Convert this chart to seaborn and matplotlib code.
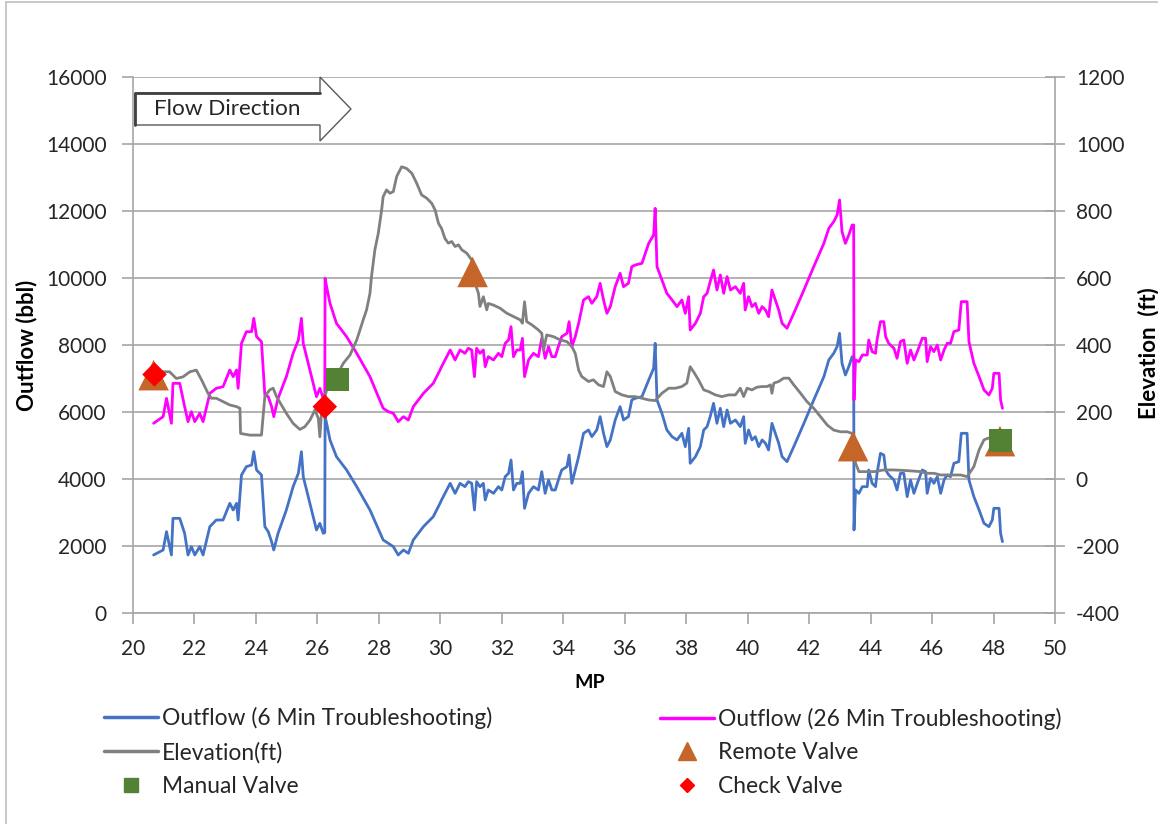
import matplotlib
matplotlib.use("Agg")
import matplotlib.pyplot as plt
import pandas as pd
import seaborn as sns
from matplotlib.patches import Polygon
from matplotlib.lines import Line2D

# ---------------------------------------------------------------- data
# Mile post sample points shared by both outflow series
mp_outflow = [
    20.67, 20.98, 21.09, 21.25, 21.30, 21.52, 21.68, 21.79, 21.90, 22.01,
    22.17, 22.28, 22.50, 22.71, 22.93, 23.15, 23.26, 23.37, 23.42, 23.53,
    23.69, 23.86, 23.93, 24.02, 24.18, 24.29, 24.40, 24.51, 24.58, 24.72,
    24.99, 25.21, 25.38, 25.48, 25.54, 25.70, 25.86, 25.97, 26.08, 26.19,
    26.24, 26.25, 26.30, 26.41, 26.62, 26.95, 27.28, 27.71, 28.14, 28.31,
    28.47, 28.63, 28.80, 28.96, 29.12, 29.45, 29.77, 29.99,
    30.04, 30.21, 30.32, 30.48, 30.64, 30.80, 30.91, 31.02, 31.11, 31.18,
    31.29, 31.40, 31.46, 31.56, 31.73, 31.89, 32.00, 32.11, 32.22, 32.30,
    32.38, 32.49, 32.60, 32.67, 32.74, 32.87, 33.03, 33.19, 33.30, 33.41,
    33.52, 33.63, 33.74, 33.84, 33.95, 34.12, 34.19, 34.28, 34.39, 34.50,
    34.66, 34.82, 34.93, 35.09, 35.20, 35.31, 35.42, 35.53, 35.69, 35.85,
    35.96, 36.12, 36.23, 36.34, 36.56, 36.78, 36.94, 36.99, 37.05, 37.21,
    37.37, 37.54, 37.70, 37.86, 37.97, 38.08, 38.13, 38.30, 38.46, 38.57,
    38.68, 38.78, 38.89, 39.00, 39.11, 39.22, 39.33, 39.44, 39.60,
    39.76, 39.87, 39.92, 40.03, 40.14, 40.25, 40.36, 40.47, 40.58, 40.68,
    40.79, 40.90, 41.01, 41.12, 41.28, 41.50, 41.83, 42.15, 42.48, 42.64,
    42.80, 42.91, 42.99, 43.07, 43.18, 43.29, 43.40, 43.45, 43.46, 43.51,
    43.62, 43.73, 43.89, 43.94, 44.05, 44.16, 44.21, 44.32, 44.43, 44.49,
    44.59, 44.76, 44.86, 44.97, 45.08, 45.19, 45.30, 45.41, 45.52, 45.68,
    45.79, 45.84, 45.95, 46.06, 46.17, 46.28, 46.39, 46.49, 46.60, 46.71,
    46.87, 46.95, 47.14, 47.20, 47.36, 47.53, 47.69, 47.85, 47.96, 48.01,
    48.18, 48.23, 48.29,
]

# Outflow (bbl), 6 minute troubleshooting
outflow_6min = [
    1732, 1881, 2428, 1732, 2826, 2826, 2379, 1732, 1981, 1732,
    1981, 1732, 2578, 2776, 2776, 3274, 3075, 3274, 2776, 4120,
    4369, 4418, 4816, 4269, 4120, 2578, 2428, 2130, 1881, 2379,
    3075, 3771, 4170, 4816, 4070, 3473, 2876, 2478, 2677, 2379,
    2400, 5861, 5662, 5164, 4667, 4269, 3771, 3075, 2180, 2080,
    1981, 1732, 1881, 1782, 2180, 2578, 2876, 3274,
    3374, 3672, 3871, 3572, 3871, 3771, 3921, 3871, 3075, 3921,
    3771, 3871, 3374, 3672, 3572, 3771, 3672, 4070, 4170, 4567,
    3672, 3871, 3871, 4219, 3125, 3572, 3771, 3672, 4219, 3572,
    3970, 3672, 3672, 3970, 4269, 4369, 4717, 3871, 4269, 4667,
    5364, 5463, 5264, 5463, 5861, 5364, 4966, 5165, 5762, 6160,
    5762, 5861, 6359, 6408, 6458, 6955, 7304, 8050, 6359, 5960,
    5463, 5264, 5165, 5364, 4966, 5513, 4468, 4667, 4966, 5463,
    5563, 5861, 6259, 5662, 6110, 5563, 6060, 5662, 5762,
    5563, 5861, 5065, 5463, 5165, 5264, 4966, 5165, 5065, 4866,
    5662, 5364, 5065, 4667, 4518, 4966, 5662, 6359, 7055, 7553,
    7752, 7951, 8349, 7453, 7105, 7354, 7652, 7652, 2478, 3672,
    3572, 3771, 3771, 4269, 3871, 3771, 4170, 4766, 4717, 4269,
    4120, 3971, 3672, 4170, 4170, 3473, 3971, 3572, 3871, 4269,
    4219, 3572, 4020, 3871, 4070, 3572, 3971, 4120, 4070, 4468,
    4518, 5364, 5364, 3971, 3473, 3075, 2677, 2577, 2776, 3125,
    3125, 2379, 2130,
]

# Outflow (bbl), 26 minute troubleshooting
outflow_26min = [
    5662, 5861, 6408, 5662, 6856, 6856, 6160, 5712, 6010, 5712,
    5960, 5712, 6557, 6707, 6756, 7254, 7055, 7254, 6707, 8050,
    8398, 8398, 8796, 8249, 8100, 6508, 6458, 6160, 5861, 6408,
    7055, 7752, 8150, 8796, 8050, 7453, 6856, 6458, 6707, 6408,
    6408, 9990, 9742, 9244, 8647, 8249, 7752, 7055, 6110, 6010,
    5960, 5712, 5861, 5761, 6160, 6557, 6856, 7254,
    7354, 7652, 7851, 7553, 7851, 7752, 7901, 7851, 7055, 7901,
    7752, 7851, 7354, 7652, 7553, 7752, 7652, 8050, 8150, 8548,
    7652, 7851, 7851, 8199, 7055, 7553, 7752, 7652, 8199, 7602,
    7951, 7652, 7652, 7951, 8249, 8349, 8697, 7951, 8249, 8647,
    9344, 9443, 9244, 9443, 9841, 9344, 8945, 9145, 9741, 10140,
    9741, 9841, 10339, 10388, 10438, 11035, 11284, 12080, 10339, 9941,
    9543, 9344, 9145, 9344, 8945, 9443, 8448, 8647, 8945, 9443,
    9543, 9891, 10239, 9642, 10090, 9543, 10040, 9642, 9741,
    9543, 9841, 9045, 9443, 9145, 9244, 8945, 9145, 9045, 8846,
    9642, 9344, 9045, 8647, 8498, 8945, 9642, 10339, 11035, 11483,
    11682, 11881, 12329, 11383, 11035, 11284, 11582, 11582, 6359, 7553,
    7503, 7702, 7702, 8150, 7801, 7752, 8150, 8697, 8697, 8249,
    8050, 7901, 7602, 8100, 8150, 7453, 7851, 7553, 7801, 8199,
    8199, 7503, 7951, 7801, 8000, 7553, 7851, 8050, 8050, 8398,
    8448, 9294, 9294, 8100, 7453, 7055, 6657, 6508, 6707, 7155,
    7155, 6359, 6110,
]

# Pipeline elevation profile (ft)
mp_elev = [
    20.70, 21.19, 21.41, 21.63, 21.85, 22.06, 22.23, 22.44, 22.55, 22.71,
    22.93, 23.15, 23.37, 23.48, 23.50, 23.80, 24.18, 24.29, 24.45, 24.56,
    24.67, 24.99, 25.21, 25.43, 25.59, 25.76, 25.92, 26.03, 26.08, 26.14,
    26.30, 26.62, 26.84, 27.06, 27.28, 27.49, 27.60, 27.71, 27.76, 27.87,
    27.98, 28.09, 28.14, 28.25, 28.36, 28.47, 28.58, 28.74, 28.90, 29.07,
    29.23, 29.39, 29.56, 29.72, 29.83, 29.94,
    30.04, 30.15, 30.26, 30.37, 30.48, 30.59, 30.70, 30.86, 31.02, 31.13,
    31.24, 31.29, 31.40, 31.51, 31.56, 31.73, 31.94, 32.16, 32.38, 32.60,
    32.67, 32.74, 32.81, 32.98, 33.19, 33.30, 33.36, 33.46, 33.68, 33.90,
    34.12, 34.28, 34.39, 34.50, 34.60, 34.82, 34.98, 35.15, 35.31, 35.42,
    35.53, 35.69, 35.91, 36.12, 36.34, 36.56, 36.78, 36.99, 37.21, 37.43,
    37.65, 37.86, 38.02, 38.13, 38.24, 38.40, 38.57, 38.73, 38.95, 39.16,
    39.38, 39.60, 39.76, 39.87,
    39.98, 40.14, 40.30, 40.47, 40.63, 40.74, 40.79, 40.85, 41.01, 41.17,
    41.34, 41.50, 41.72, 41.93, 42.15, 42.37, 42.59, 42.80, 43.02, 43.24,
    43.40, 43.51, 43.62, 43.83, 44.11, 44.43, 44.76, 45.19, 45.63, 45.84,
    46.06, 46.28, 46.49, 46.71, 46.93, 47.14, 47.36, 47.53, 47.69, 47.80,
    47.95,
]
elevation_ft = [
    320, 320, 300, 305, 320, 325, 296, 256, 241, 241,
    231, 221, 216, 211, 136, 131, 131, 246, 266, 271,
    246, 196, 166, 148, 156, 176, 206, 181, 126, 206,
    266, 306, 345, 370, 415, 475, 505, 554, 604, 684,
    733, 803, 843, 863, 853, 858, 903, 932, 927, 913,
    883, 848, 838, 823, 803, 763,
    748, 718, 704, 709, 694, 699, 684, 674, 654, 584,
    554, 515, 544, 505, 524, 519, 510, 495, 485, 475,
    465, 529, 470, 460, 445, 435, 385, 430, 425, 415,
    410, 395, 375, 325, 306, 291, 296, 281, 276, 320,
    306, 261, 251, 246, 246, 241, 236, 234, 256, 271,
    271, 276, 286, 335, 320, 296, 266, 261, 251, 246,
    251, 251, 271, 246,
    271, 266, 274, 276, 276, 281, 256, 286, 291, 301,
    301, 281, 256, 231, 211, 186, 161, 146, 141, 141,
    136, 47, 22, 22, 22, 27, 27, 25, 22, 17,
    17, 12, 12, 12, 12, 7, 37, 87, 117, 121,
    125,
]

# Valve locations (MP, elevation ft)
remote_mp = [20.67, 31.05, 43.43, 48.21]
remote_elev = [310, 618, 98, 113]
manual_mp = [26.66, 48.23]
manual_elev = [298, 116]
check_mp = [20.70, 26.24]
check_elev = [312, 216]

x_ticks = list(range(20, 51, 2))
outflow_ticks = list(range(0, 16001, 2000))
elev_ticks = list(range(-400, 1201, 200))

# ---------------------------------------------------------------- style
BLUE = "#4472C4"
PINK = "#FF00FF"
GRAY = "#808080"
BROWN = "#C5652A"
GREEN = "#548235"
RED = "#FF0000"
AXIS = "#A6A6A6"
TEXT = "#262626"

sns.set_theme(style="white")
plt.rcParams["font.family"] = ["Lato", "DejaVu Sans"]
plt.rcParams["axes.unicode_minus"] = False

W, H = 1158, 824
fig = plt.figure(figsize=(W / 100, H / 100), dpi=100)
L, R, T, B = 133, 1055, 77, 613
ax = fig.add_axes([L / W, 1 - B / H, (R - L) / W, (B - T) / H])
ax2 = ax.twinx()

df_out = pd.DataFrame({"MP": mp_outflow, "six": outflow_6min, "twentysix": outflow_26min})
df_elev = pd.DataFrame({"MP": mp_elev, "elev": elevation_ft})

sns.lineplot(data=df_out, x="MP", y="six", ax=ax, color=BLUE, lw=2.0,
             sort=False, estimator=None, zorder=3)
sns.lineplot(data=df_out, x="MP", y="twentysix", ax=ax, color=PINK, lw=2.0,
             sort=False, estimator=None, zorder=4)
sns.lineplot(data=df_elev, x="MP", y="elev", ax=ax2, color=GRAY, lw=2.0,
             sort=False, estimator=None, zorder=3)

sns.scatterplot(x=remote_mp, y=remote_elev, ax=ax2, marker="^", s=22 ** 2,
                color=BROWN, edgecolor="none", zorder=5)
sns.scatterplot(x=manual_mp, y=manual_elev, ax=ax2, marker="s", s=16.5 ** 2,
                color=GREEN, edgecolor="none", zorder=6)
sns.scatterplot(x=check_mp, y=check_elev, ax=ax2, marker="D", s=12.5 ** 2,
                color=RED, edgecolor="none", zorder=7)

# ---------------------------------------------------------------- axes
ax.set_xlim(20, 50)
ax.set_ylim(0, 16000)
ax2.set_ylim(-400, 1200)
ax.set_xticks(x_ticks)
ax.set_yticks(outflow_ticks)
ax2.set_yticks(elev_ticks)

ax.yaxis.grid(True, color=AXIS, lw=1.2)
ax.xaxis.grid(False)
ax.set_axisbelow(True)

for a in (ax, ax2):
    a.spines["top"].set_visible(False)
    for side in ("left", "bottom", "right"):
        a.spines[side].set_color(AXIS)
        a.spines[side].set_linewidth(1.2)
ax.spines["right"].set_visible(False)
ax2.spines["left"].set_visible(False)
ax2.spines["bottom"].set_visible(False)

tick_font = dict(labelsize=15, labelcolor=TEXT, color=AXIS, width=1.2)
ax.tick_params(axis="x", direction="out", length=8, pad=11, bottom=True, **tick_font)
ax.tick_params(axis="y", direction="out", length=8, pad=11, left=True, **tick_font)
ax2.tick_params(axis="y", direction="inout", length=14, pad=8, right=True, **tick_font)

ax.set_xlabel("MP", fontsize=14, fontweight="bold", color="black")
ax.xaxis.set_label_coords((590 - L) / (R - L), (B - 683) / (B - T))
ax.xaxis.label.set_va("center")
ax.set_ylabel("Outflow (bbl)", fontsize=16, fontweight="bold", color="black")
ax.yaxis.set_label_coords((27 - L) / (R - L), 0.5)
ax.yaxis.label.set_va("center")
ax2.set_ylabel("Elevation  (ft)", fontsize=16, fontweight="bold", color="black",
               rotation=90)
ax2.yaxis.set_label_coords((1149 - L) / (R - L), (B - 353) / (B - T))
ax2.yaxis.label.set_va("center")


# ---------------------------------------------------------------- flow arrow
def ax_pt(px, py):
    return ((px - L) / (R - L), (B - py) / (B - T))


arrow_pts = [ax_pt(135, 93), ax_pt(320, 93), ax_pt(320, 77), ax_pt(351, 109),
             ax_pt(320, 141), ax_pt(320, 125), ax_pt(135, 125)]
ax.add_patch(Polygon(arrow_pts, closed=True, facecolor="white", edgecolor="#595959",
                     lw=1.0, transform=ax.transAxes, clip_on=False, zorder=10))
edge = [ax_pt(135, 125), ax_pt(135, 93), ax_pt(320, 93)]
ax.add_line(Line2D([p[0] for p in edge], [p[1] for p in edge], color="#404040",
                   lw=2.0, transform=ax.transAxes, clip_on=False, zorder=11))
ax.text(*ax_pt(154, 109), "Flow Direction", transform=ax.transAxes, fontsize=16.2,
        color=TEXT, ha="left", va="center", zorder=12)

# ---------------------------------------------------------------- legend
left_handles = [
    Line2D([], [], color=BLUE, lw=2.5),
    Line2D([], [], color=GRAY, lw=2.5),
    Line2D([], [], color=GREEN, marker="s", ls="", markersize=10.5),
]
left_labels = ["Outflow (6 Min Troubleshooting)", "Elevation(ft)", "Manual Valve"]
right_handles = [
    Line2D([], [], color=PINK, lw=2.5),
    Line2D([], [], color=BROWN, marker="^", ls="", markersize=13),
    Line2D([], [], color=RED, marker="D", ls="", markersize=7),
]
right_labels = ["Outflow (26 Min Troubleshooting)", "Remote Valve", "Check Valve"]

leg_kw = dict(loc="center left", frameon=False, fontsize=16.4, handlelength=2.37,
              handletextpad=0.18, labelspacing=0.55, borderpad=0, borderaxespad=0,
              labelcolor=TEXT)
fig.legend(left_handles, left_labels, bbox_to_anchor=(104 / W, 1 - 752 / H), **leg_kw)
fig.legend(right_handles, right_labels, bbox_to_anchor=(660 / W, 1 - 752 / H), **leg_kw)

# ---------------------------------------------------------------- chart border
fig.add_artist(Line2D([6 / W, 1], [1 - 2 / H, 1 - 2 / H], color="#BFBFBF", lw=1.2))
fig.add_artist(Line2D([6 / W, 6 / W], [0, 1 - 2 / H], color="#BFBFBF", lw=1.2))

fig.savefig("out.png", dpi=100, facecolor="white")
